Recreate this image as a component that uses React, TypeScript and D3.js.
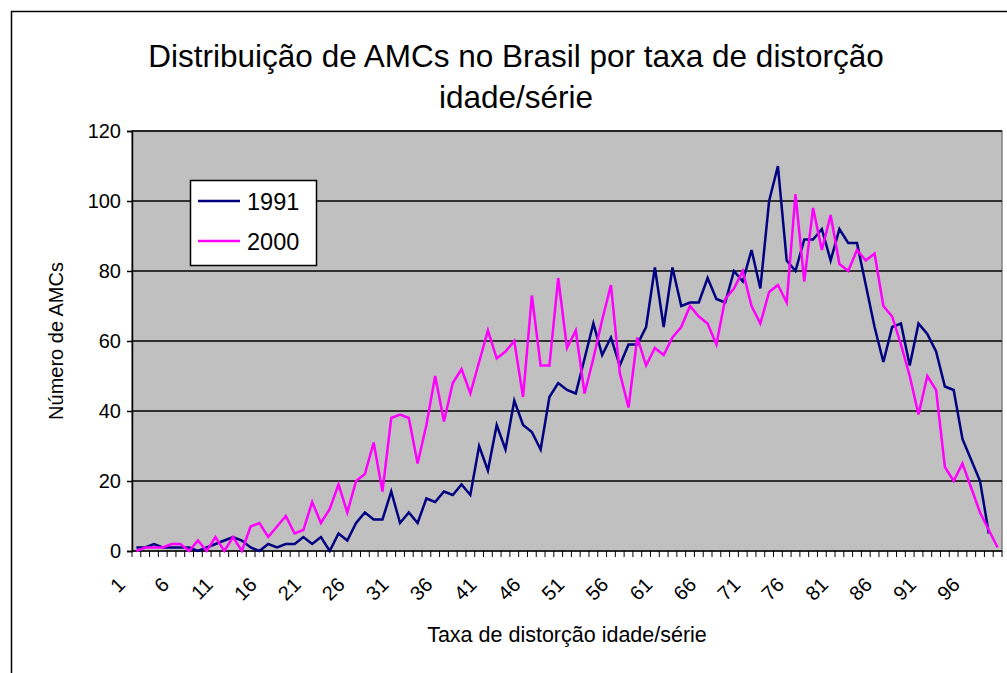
import React, { useEffect, useRef } from 'react';
import * as d3 from 'd3';

// categories 1..99 (taxa de distorção)
const categories = [
  1, 2, 3, 4, 5, 6, 7, 8, 9, 10, 11, 12, 13, 14, 15, 16, 17, 18, 19, 20,
  21, 22, 23, 24, 25, 26, 27, 28, 29, 30, 31, 32, 33, 34, 35, 36, 37, 38, 39, 40,
  41, 42, 43, 44, 45, 46, 47, 48, 49, 50, 51, 52, 53, 54, 55, 56, 57, 58, 59, 60,
  61, 62, 63, 64, 65, 66, 67, 68, 69, 70, 71, 72, 73, 74, 75, 76, 77, 78, 79, 80,
  81, 82, 83, 84, 85, 86, 87, 88, 89, 90, 91, 92, 93, 94, 95, 96, 97, 98, 99,
];

const tickLabels = [1, 6, 11, 16, 21, 26, 31, 36, 41, 46, 51, 56, 61, 66, 71, 76, 81, 86, 91, 96];
const yTicks = [0, 20, 40, 60, 80, 100, 120];

const values1991 = [
  1, 1, 2, 1, 1, 1, 1, 0, 1, 2, 3, 4, 3, 1, 0, 2, 1, 2, 2, 4,
  2, 4, 0, 5, 3, 8, 11, 9, 9, 17, 8, 11, 8, 15, 14, 17, 16, 19, 16, 30,
  23, 36, 29, 43, 36, 34, 29, 44, 48, 46, 45, 55, 65, 56, 61, 53, 59, 59, 64, 81,
  64, 81, 70, 71, 71, 78, 72, 71, 80, 77, 86, 75, 100, 110, 83, 80, 89, 89, 92, 83,
  92, 88, 88, 76, 64, 54, 64, 65, 53, 65, 62, 57, 47, 46, 32, 26, 20, 5,
];

const values2000 = [
  0, 1, 1, 1, 2, 2, 0, 3, 0, 4, 0, 4, 0, 7, 8, 4, 7, 10, 5, 6,
  14, 8, 12, 19, 11, 20, 22, 31, 17, 38, 39, 38, 25, 36, 50, 37, 48, 52, 45, 54,
  63, 55, 57, 60, 44, 73, 53, 53, 78, 58, 63, 45, 55, 66, 76, 51, 41, 61, 53, 58,
  56, 61, 64, 70, 67, 65, 59, 72, 75, 80, 70, 65, 74, 76, 71, 102, 77, 98, 86, 96,
  82, 80, 86, 83, 85, 70, 67, 59, 50, 39, 50, 46, 24, 20, 25, 18, 11, 6, 1,
];

const seriesNames = ['1991', '2000'];
const seriesColors = ['#000080', '#FF00FF'];

const App: React.FC = () => {
  const chartRef = useRef<SVGSVGElement | null>(null);

  useEffect(() => {
    if (!chartRef.current) return;
    const svg = d3.select(chartRef.current);
    svg.selectAll('*').remove();

    const width = 1007;
    const height = 673;
    const left = 132;
    const right = 1002;
    const top = 131;
    const bottom = 551;
    const font = '"Liberation Sans", Arial, sans-serif';

    svg.attr('width', width).attr('height', height).style('font-family', font);

    svg.append('rect').attr('width', width).attr('height', height).attr('fill', '#fff');
    svg.append('rect')
      .attr('x', 11.5).attr('y', 11.5).attr('width', 1000).attr('height', 700)
      .attr('fill', 'none').attr('stroke', '#000').attr('stroke-width', 1.5);

    const x = d3.scaleBand<number>().domain(categories).range([left, right]).padding(0);
    const cx = (c: number) => (x(c) as number) + x.bandwidth() / 2;
    const y = d3.scaleLinear().domain([0, 120]).range([bottom, top]);

    // plot area
    svg.append('rect')
      .attr('x', left).attr('y', top).attr('width', right - left).attr('height', bottom - top)
      .attr('fill', '#C0C0C0').attr('stroke', '#808080').attr('stroke-width', 1.5);

    // gridlines
    svg.append('g').selectAll('line')
      .data(yTicks.filter((t) => t > 0))
      .join('line')
      .attr('x1', left).attr('x2', right)
      .attr('y1', (d) => y(d)).attr('y2', (d) => y(d))
      .attr('stroke', '#000').attr('stroke-width', 1.5);

    // y axis
    const yAxis = svg.append('g')
      .attr('transform', `translate(${left},0)`)
      .call(d3.axisLeft(y).tickValues(yTicks).tickSize(5).tickPadding(6));
    yAxis.select('.domain').attr('stroke', '#000').attr('stroke-width', 1.5);
    yAxis.selectAll('.tick line').attr('stroke', '#000').attr('stroke-width', 1.5);
    yAxis.selectAll('.tick text')
      .attr('font-size', 20).attr('font-family', font).attr('fill', '#000');

    // x axis line and ticks at category boundaries
    const xg = svg.append('g');
    xg.append('line')
      .attr('x1', left).attr('x2', right).attr('y1', bottom).attr('y2', bottom)
      .attr('stroke', '#000').attr('stroke-width', 1.5);
    xg.selectAll('line.tk')
      .data(categories)
      .join('line')
      .attr('class', 'tk')
      .attr('x1', (d) => x(d) as number).attr('x2', (d) => x(d) as number)
      .attr('y1', bottom).attr('y2', bottom + 6)
      .attr('stroke', '#000').attr('stroke-width', 1);
    xg.append('line')
      .attr('x1', right).attr('x2', right).attr('y1', bottom).attr('y2', bottom + 6)
      .attr('stroke', '#000').attr('stroke-width', 1);

    xg.selectAll('text')
      .data(tickLabels)
      .join('text')
      .attr('transform', (d) => `translate(${cx(d) - 15},${bottom + 30}) rotate(-45)`)
      .attr('text-anchor', 'end')
      .attr('dy', '0.35em')
      .attr('font-size', 20)
      .attr('fill', '#000')
      .text((d) => String(d));

    // series lines
    const line = d3.line<number>()
      .x((_, i) => cx(categories[i]))
      .y((d) => y(d));

    [values1991, values2000].forEach((vals, k) => {
      svg.append('path')
        .datum(vals)
        .attr('d', line)
        .attr('fill', 'none')
        .attr('stroke', seriesColors[k])
        .attr('stroke-width', 2.5)
        .attr('stroke-linejoin', 'miter');
    });

    // titles
    svg.append('text')
      .attr('x', 516).attr('y', 67)
      .attr('text-anchor', 'middle').attr('font-size', 31.5)
      .text('Distribuição de AMCs no Brasil por taxa de distorção');
    svg.append('text')
      .attr('x', 516).attr('y', 108)
      .attr('text-anchor', 'middle').attr('font-size', 31.5)
      .text('idade/série');

    svg.append('text')
      .attr('transform', `translate(63,${(top + bottom) / 2}) rotate(-90)`)
      .attr('text-anchor', 'middle').attr('font-size', 20)
      .text('Número de AMCs');

    svg.append('text')
      .attr('x', 567).attr('y', 642)
      .attr('text-anchor', 'middle').attr('font-size', 21.5)
      .text('Taxa de distorção idade/série');

    // legend
    const lg = svg.append('g');
    lg.append('rect')
      .attr('x', 190.5).attr('y', 180.5).attr('width', 126).attr('height', 85)
      .attr('fill', '#fff').attr('stroke', '#000').attr('stroke-width', 1.5);
    seriesNames.forEach((name, k) => {
      const ly = 201 + k * 40;
      lg.append('line')
        .attr('x1', 198).attr('x2', 240).attr('y1', ly).attr('y2', ly)
        .attr('stroke', seriesColors[k]).attr('stroke-width', 2.5);
      lg.append('text')
        .attr('x', 247).attr('y', ly + 9)
        .attr('font-size', 23.5)
        .text(name);
    });
  }, []);

  return (
    <div style={{ position: 'absolute', left: 0, top: 0 }}>
      <svg ref={chartRef}></svg>
    </div>
  );
};

export default App;
